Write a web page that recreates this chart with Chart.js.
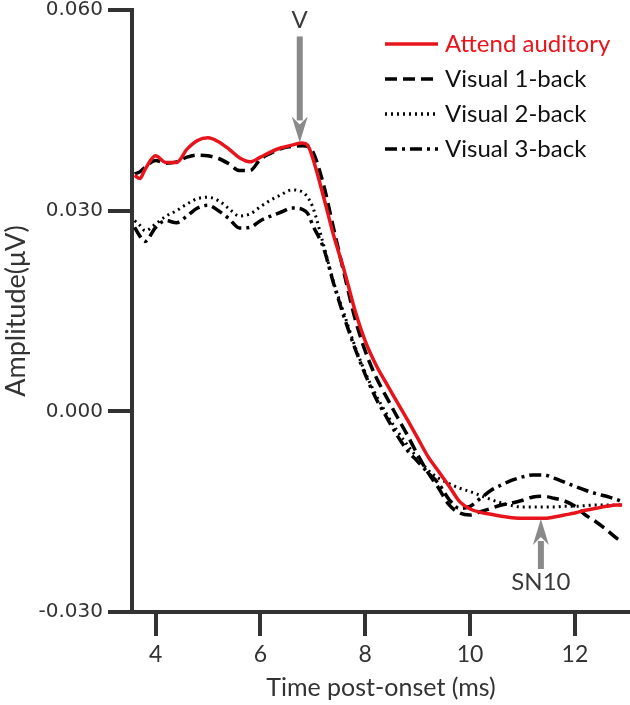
<!DOCTYPE html>
<html>
<head>
<meta charset="utf-8">
<script src="https://cdn.jsdelivr.net/npm/chart.js@4"></script>
<style>
  html, body { margin: 0; padding: 0; background: #fff; }
  #wrap { width: 630px; height: 705px; position: relative; }
</style>
</head>
<body>
<div id="wrap"><canvas id="abrChart"></canvas></div>
<script>
// ===== DATA =====
const times = [3.6, 3.7, 3.8, 4.0, 4.2, 4.4, 4.6, 4.8, 5.0, 5.2, 5.4, 5.6, 5.8, 6.0, 6.2, 6.4, 6.6, 6.8, 6.9, 7.0,
  7.2, 7.4, 7.6, 7.8, 8.0, 8.2, 8.4, 8.6, 8.8, 9.0, 9.2, 9.4, 9.6, 9.8, 10.0, 10.2, 10.4, 10.6, 10.8, 11.0,
  11.2, 11.4, 11.6, 11.8, 12.0, 12.2, 12.4, 12.6, 12.8, 12.9];

const attendAuditory = [0.0353, 0.0348, 0.0362, 0.0382, 0.0372, 0.0372, 0.0392, 0.0405, 0.0409, 0.0403,
  0.0392, 0.0379, 0.0373, 0.0380, 0.0388, 0.0394, 0.0398, 0.0401, 0.0398, 0.0378,
  0.0322, 0.0262, 0.0210, 0.0152, 0.0105, 0.0070, 0.0042, 0.0015, -0.0012, -0.0040,
  -0.0068, -0.0090, -0.0112, -0.0135, -0.0146, -0.0151, -0.0154, -0.0157, -0.0159, -0.0160,
  -0.0160, -0.0160, -0.0158, -0.0155, -0.0152, -0.0148, -0.0145, -0.0142, -0.0140, -0.0140];

const visual1 = [0.0355, 0.0358, 0.0365, 0.0375, 0.0371, 0.0373, 0.0380, 0.0383, 0.0382, 0.0378,
  0.0370, 0.0360, 0.0360, 0.0377, 0.0386, 0.0393, 0.0396, 0.0397, 0.0396, 0.0388,
  0.0340, 0.0272, 0.0205, 0.0140, 0.0090, 0.0052, 0.0022, -0.0007, -0.0035, -0.0065,
  -0.0092, -0.0115, -0.0140, -0.0152, -0.0155, -0.0150, -0.0145, -0.0140, -0.0137, -0.0133,
  -0.0128, -0.0127, -0.0130, -0.0134, -0.0142, -0.0155, -0.0165, -0.0177, -0.0190, -0.0195];

const visual2 = [0.0285, 0.0278, 0.0270, 0.0280, 0.0292, 0.0300, 0.0310, 0.0318, 0.0320, 0.0315,
  0.0303, 0.0292, 0.0295, 0.0306, 0.0316, 0.0324, 0.0331, 0.0328, 0.0320, 0.0305,
  0.0250, 0.0192, 0.0145, 0.0098, 0.0058, 0.0025, -0.0003, -0.0028, -0.0050, -0.0070,
  -0.0088, -0.0100, -0.0108, -0.0115, -0.0120, -0.0126, -0.0132, -0.0137, -0.0141, -0.0143,
  -0.0143, -0.0143, -0.0143, -0.0142, -0.0142, -0.0141, -0.0140, -0.0140, -0.0140, -0.0140];

const visual3 = [0.0275, 0.0262, 0.0254, 0.0275, 0.0285, 0.0282, 0.0292, 0.0304, 0.0308, 0.0300,
  0.0288, 0.0274, 0.0275, 0.0285, 0.0292, 0.0298, 0.0304, 0.0302, 0.0296, 0.0278,
  0.0245, 0.0190, 0.0140, 0.0095, 0.0055, 0.0020, -0.0008, -0.0035, -0.0058, -0.0075,
  -0.0092, -0.0108, -0.0132, -0.0145, -0.0142, -0.0130, -0.0118, -0.0110, -0.0103, -0.0098,
  -0.0095, -0.0095, -0.0100, -0.0106, -0.0112, -0.0118, -0.0123, -0.0127, -0.0132, -0.0135];

const seriesNames = ['Attend auditory', 'Visual 1-back', 'Visual 2-back', 'Visual 3-back'];
const yTicks = [-0.03, 0, 0.03, 0.06];
const xTicks = [4, 6, 8, 10, 12];

// peak markers (time, amplitude)
const peakV = { label: 'V', t: 6.75, v: 0.0402 };
const peakSN10 = { label: 'SN10', t: 11.35, v: -0.0161 };

const RED = '#e8141c';
const AXIS = '#333333';
const ARROW = '#8a8a8a';

function toPoints(vals){
  return times.map((t, i) => ({ x: t, y: vals[i] }));
}

// STYLES PER SERIES
const styles = [
  { color: RED, dash: [], width: 3.5 },
  { color: '#000', dash: [12, 6], width: 3.5 },
  { color: '#000', dash: [2, 4], width: 3 },
  { color: '#000', dash: [12, 5, 3, 5], width: 3.5 }
];

const allValues = [attendAuditory, visual1, visual2, visual3];

// red drawn on top
const datasets = allValues.map((vals, i) => ({
  label: seriesNames[i],
  data: toPoints(vals),
  borderColor: styles[i].color,
  borderDash: styles[i].dash,
  borderWidth: styles[i].width,
  pointRadius: 0,
  fill: false,
  cubicInterpolationMode: 'monotone',
  order: i === 0 ? 0 : 1
}));

// ===== ARROWS + LEGEND =====
const decor = {
  id: 'decor',
  afterDatasetsDraw(chart){
    const c = chart.ctx;
    const xs = chart.scales.x, ys = chart.scales.y;

    function arrow(px, tipY, tailY){
      c.save();
      c.strokeStyle = ARROW;
      c.fillStyle = ARROW;
      c.lineWidth = 6;
      const dir = tailY < tipY ? 1 : -1; // 1 = pointing down
      const headLen = 26;
      c.beginPath();
      c.moveTo(px, tailY);
      c.lineTo(px, tipY - dir * (headLen - 4));
      c.stroke();
      c.beginPath();
      c.moveTo(px, tipY);
      c.lineTo(px - 8, tipY - dir * headLen);
      c.lineTo(px, tipY - dir * (headLen - 8));
      c.lineTo(px + 8, tipY - dir * headLen);
      c.closePath();
      c.fill();
      c.restore();
    }

    // V
    let px = xs.getPixelForValue(peakV.t);
    let py = ys.getPixelForValue(peakV.v);
    arrow(px, py, py - 106);
    c.save();
    c.fillStyle = '#3a3a3a';
    c.font = '24px Lato';
    c.textAlign = 'center';
    c.textBaseline = 'middle';
    c.fillText(peakV.label, px, py - 122);
    c.restore();

    // SN10
    px = xs.getPixelForValue(peakSN10.t);
    py = ys.getPixelForValue(peakSN10.v);
    arrow(px, py, py + 50);
    c.save();
    c.fillStyle = '#3a3a3a';
    c.font = '24px Lato';
    c.textAlign = 'center';
    c.textBaseline = 'middle';
    c.fillText(peakSN10.label, px, py + 63);
    c.restore();

    // legend
    const lx = 385, lw = 53, rows = [44, 79, 114, 149];
    seriesNames.forEach((name, i) => {
      c.save();
      c.strokeStyle = styles[i].color;
      c.lineWidth = 3.5;
      c.setLineDash(styles[i].dash);
      c.beginPath();
      c.moveTo(lx, rows[i]);
      c.lineTo(lx + lw, rows[i]);
      c.stroke();
      c.setLineDash([]);
      c.fillStyle = i === 0 ? RED : '#111';
      c.font = '24px Lato';
      c.textBaseline = 'middle';
      c.fillText(name, lx + 60, rows[i]);
      c.restore();
    });
  }
};

new Chart(document.getElementById('abrChart'), {
  type: 'line',
  data: { datasets: datasets },
  plugins: [decor],
  options: {
    responsive: true,
    maintainAspectRatio: false,
    animation: false,
    layout: { padding: { top: 10, right: 0, left: 0, bottom: 0 } },
    plugins: {
      legend: { display: false },
      tooltip: { enabled: false }
    },
    scales: {
      x: {
        type: 'linear',
        min: 3.55,
        max: 13.05,
        afterFit(scale){ scale.height = 93; scale.paddingLeft = 0; scale.paddingRight = 0; },
        afterBuildTicks(scale){ scale.ticks = xTicks.map(v => ({ value: v })); },
        ticks: {
          includeBounds: false,
          color: AXIS,
          font: { family: 'Lato', size: 23 },
          padding: 5,
          maxRotation: 0
        },
        grid: { drawOnChartArea: false, drawTicks: true, tickLength: 24, color: AXIS, lineWidth: 4 },
        border: { display: true, color: AXIS, width: 4 },
        title: {
          display: true,
          text: 'Time post-onset (ms)',
          color: AXIS,
          font: { family: 'Lato', size: 25 },
          padding: { top: 0, bottom: 2 }
        }
      },
      y: {
        min: -0.03,
        max: 0.06,
        afterFit(scale){ scale.width = 132; scale.paddingTop = 0; scale.paddingBottom = 0; },
        afterBuildTicks(scale){ scale.ticks = yTicks.map(v => ({ value: v })); },
        ticks: {
          color: AXIS,
          font: { family: 'DejaVu Sans', size: 20 },
          padding: 5,
          callback: v => v.toFixed(3)
        },
        grid: { drawOnChartArea: false, drawTicks: true, tickLength: 24, color: AXIS, lineWidth: 4 },
        border: { display: true, color: AXIS, width: 4 },
        title: {
          display: true,
          text: 'Amplitude(μV)',
          color: AXIS,
          font: { family: 'Lato', size: 27 },
          padding: { top: 0, bottom: 0 }
        }
      }
    }
  }
});
</script>
</body>
</html>
